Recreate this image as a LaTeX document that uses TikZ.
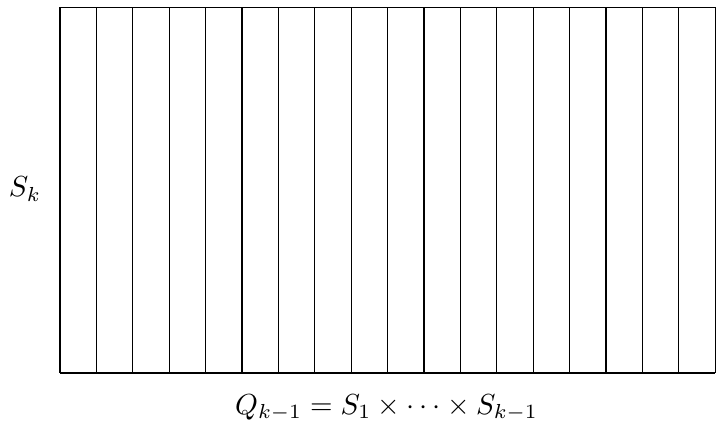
\documentclass[tikz,border=0pt]{standalone}
\begin{document}
\begin{tikzpicture}[x=0.345pt,y=0.345pt,
  gridline/.style={line width=0.4pt,black},
  lbl/.style={inner sep=0pt,anchor=base}]
\useasboundingbox (0,0) rectangle (716,421);
\coordinate (bl) at (60,48);
\coordinate (br) at (715.2,48);
\coordinate (tl) at (60,413.5);
\coordinate (tr) at (715.2,413.5);
\draw[gridline] (bl) -- (br);
\draw[gridline] (tl) -- (tr);
\foreach \k in {0,...,18}{
  \draw[gridline] ({60+36.4*\k},48) -- ({60+36.4*\k},413.5);
}
\node[lbl] (sk) at (25,224) {$S_k$};
\node[lbl] (q) at (386.5,6.5) {$Q_{k-1} = S_1 \times \cdots \times S_{k-1}$};
\end{tikzpicture}
\end{document}
